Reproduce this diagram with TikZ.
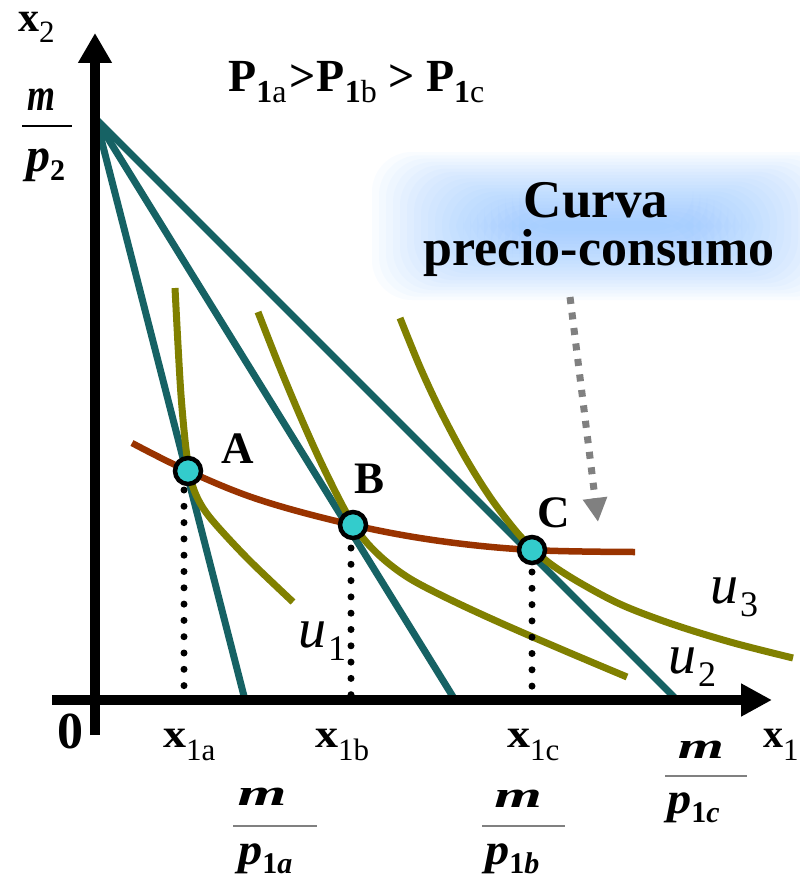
\documentclass[tikz,border=0pt]{standalone}
\usepackage{fontspec}
\setmainfont{Liberation Serif}
\usetikzlibrary{arrows.meta}
\definecolor{budg}{RGB}{22,98,100}
\definecolor{olv}{RGB}{128,128,0}
\definecolor{brn}{RGB}{153,51,0}
\definecolor{cyn}{RGB}{51,204,204}
\definecolor{glowc}{RGB}{120,185,255}
\definecolor{arrg}{RGB}{128,128,128}
\newcommand\fs[1]{\fontsize{#1}{#1}\selectfont}
\newcommand\tsub[2]{\raisebox{-11pt}{\fs{32}\bfseries #1\mdseries #2}}
\newcommand\xsub[1]{\raisebox{-13pt}{\fs{31}\mdseries #1}}
\newcommand\psub[2]{\raisebox{-9pt}{\fs{30}\upshape #1\itshape #2}}
\newcommand\usub[1]{\textit{u}\kern2pt\raisebox{-13pt}{\fs{36}#1}}
\begin{document}
\begin{tikzpicture}[x=1pt,y=-1pt,
  budget/.style={draw=budg,line width=7pt},
  indiff/.style={draw=olv,line width=7pt},
  pcc/.style={draw=brn,line width=6.5pt},
  axisline/.style={line width=10pt},
  dotline/.style={line width=7pt,line cap=round,dash pattern=on 0pt off 16.3pt},
  eqpt/.style={circle,fill=cyn,draw=black,line width=4.5pt,minimum size=26pt,inner sep=0pt},
  lbl/.style={inner sep=0pt,font=\fs{45}\bfseries},
  txt/.style={inner sep=0pt},
  fracbar/.style={draw=arrg,line width=2pt},
  mfrac/.style={inner sep=0pt,anchor=base,font=\fs{37}\bfseries\itshape},
  pfrac/.style={inner sep=0pt,anchor=base west,font=\fs{44}\bfseries\itshape},
  xlab/.style={inner sep=0pt,anchor=base west,font=\fs{40}\bfseries},
  ulab/.style={inner sep=0pt,anchor=base west,font=\fs{56}},
]
\useasboundingbox (0,0) rectangle (800,883);
\fill[white] (0,0) rectangle (800,883);

% soft glow behind the label
\foreach \i in {0,...,21} {
  \fill[glowc,opacity=0.04,rounded corners=40pt] ({372+7*\i},{152+3.3*\i}) rectangle ({840-7*\i},{300-3.3*\i});
}

% budget lines
\coordinate (top) at (96,119);
\coordinate (ea) at (245,700);
\coordinate (eb) at (455,700);
\coordinate (ec) at (677,700);
\draw[budget] (top) -- (ea);
\draw[budget] (top) -- (eb);
\draw[budget] (top) -- (ec);

% indifference curves
\draw[indiff] plot[smooth,tension=0.55] coordinates {(175,288) (178,345) (181,395) (185,440) (189,470) (194,490) (203,508) (218,527) (250,561) (293,602)};
\draw[indiff] plot[smooth,tension=0.55] coordinates {(258,312) (278,363) (298,411) (318,456) (338,497) (353,524) (368,544) (388,563) (413,580.5) (453,601) (503,624) (563,650) (627,677)};
\draw[indiff] plot[smooth,tension=0.55] coordinates {(400,318) (420,367) (440,410) (465,457) (490,497) (515,530) (532,548) (552,565) (582,584) (622,605) (672,624) (732,642.5) (793,658)};

% price-consumption curve
\draw[pcc] plot[smooth,tension=0.6] coordinates {(132,443) (188,471) (260,500) (353,525) (440,541) (532,550) (635,552)};

% dotted projections
\coordinate (da1) at (184,490); \coordinate (da2) at (184,700);
\coordinate (db1) at (351,548); \coordinate (db2) at (351,700);
\coordinate (dc1) at (532,572); \coordinate (dc2) at (532,700);
\draw[dotline] (da1) -- (da2);
\draw[dotline] (db1) -- (db2);
\draw[dotline] (dc1) -- (dc2);

% axes
\coordinate (yb) at (95,735); \coordinate (yt) at (95,33);
\coordinate (xl) at (52,700); \coordinate (xr) at (772,700);
\draw[axisline,-{Triangle[length=30pt,width=32pt]}] (yb) -- (yt);
\draw[axisline,-{Triangle[length=31pt,width=31pt]}] (xl) -- (xr);

% equilibrium points
\node[eqpt] (A) at (188,471) {};
\node[eqpt] (B) at (353,525) {};
\node[eqpt] (C) at (532,550) {};
\node[lbl,anchor=base west] (la) at (221,463) {A};
\node[lbl,anchor=base west] (lb) at (354,493) {B};
\node[lbl,anchor=base west] (lc) at (537,527) {C};

% dashed arrow
\coordinate (ds) at (570,297);
\coordinate (dt) at (598,522);
\draw[arrg,line width=7pt,dash pattern=on 7pt off 8.6pt,-{Triangle[length=24pt,width=23pt]}] (ds) -- (dt);

% label text
\node[txt,anchor=base,font=\fs{53}\bfseries] (curva) at (596,217) {Curva};
\node[txt,anchor=base,font=\fs{52}\bfseries] (precio) at (599,265) {precio-consumo};

% title
\node[txt,anchor=base west,font=\fs{46}\bfseries] (title) at (228,91) {P\tsub{1}{a}\kern3pt>\kern1pt P\tsub{1}{b} > P\tsub{1}{c}};

% axis labels
\node[txt,anchor=base west,font=\fs{42}\bfseries] (x2) at (18,32) {x\raisebox{-11pt}{\fs{31}\mdseries 2}};
\node[txt,anchor=base,font=\fs{52}\bfseries] (zero) at (70,748) {0};
\node[xlab] (x1) at (763,747) {x\xsub{1}};
\node[xlab] (x1a) at (163,747) {\scalebox{1.15}[1]{x}\xsub{1a}};
\node[xlab] (x1b) at (315,747) {\scalebox{1.15}[1]{x}\xsub{1b}};
\node[xlab] (x1c) at (507,747) {\scalebox{1.15}[1]{x}\xsub{1c}};

% m/p2
\node[txt,anchor=base,font=\fs{46}\bfseries\itshape] (m2) at (41,110) {\scalebox{0.78}[1]{m}};
\coordinate (b2l) at (22,126); \coordinate (b2r) at (72,126);
\draw[line width=2pt] (b2l) -- (b2r);
\node[txt,anchor=base west,font=\fs{48}\bfseries\itshape] (p2) at (26,171) {p\raisebox{-9pt}{\fs{30}\upshape 2}};

% m/p1a
\node[mfrac] (ma) at (262,805) {\scalebox{1.7}[1]{m}};
\coordinate (bal) at (233,826); \coordinate (bar) at (317,826);
\draw[fracbar] (bal) -- (bar);
\node[pfrac] (pa) at (238,864) {\scalebox{1.1}[1]{p}\psub{1}{a}};

% m/p1b
\node[mfrac] (mb) at (518,807) {\scalebox{1.65}[1]{m}};
\coordinate (bbl) at (482,826); \coordinate (bbr) at (565,826);
\draw[fracbar] (bbl) -- (bbr);
\node[pfrac] (pb) at (485,864) {\scalebox{1.1}[1]{p}\psub{1}{b}};

% m/p1c
\node[mfrac] (mc) at (701,758) {\scalebox{1.6}[1]{m}};
\coordinate (bcl) at (665,776); \coordinate (bcr) at (747,776);
\draw[fracbar] (bcl) -- (bcr);
\node[pfrac] (pc) at (667,813) {\scalebox{1.1}[1]{p}\psub{1}{c}};

% utility labels
\node[ulab] (u1) at (298,647) {\usub{1}};
\node[ulab] (u2) at (668,673) {\usub{2}};
\node[ulab] (u3) at (710,603) {\usub{3}};
\end{tikzpicture}
\end{document}
